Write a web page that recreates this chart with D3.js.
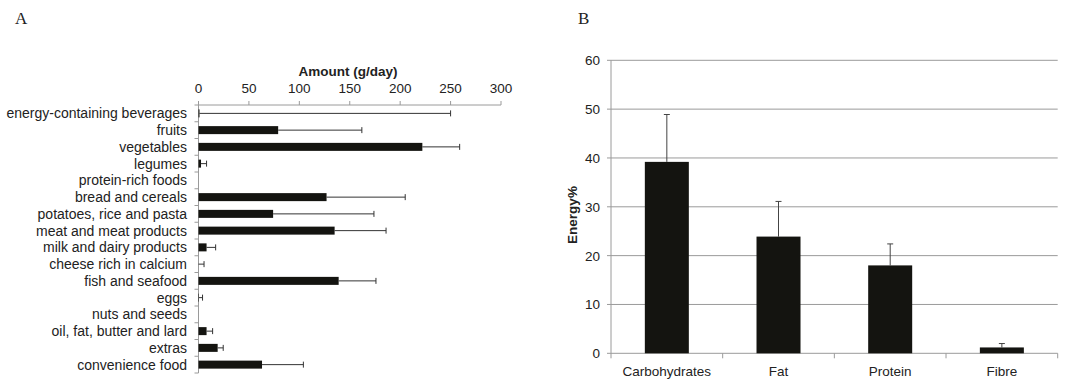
<!DOCTYPE html>
<html>
<head>
<meta charset="utf-8">
<script src="https://cdn.jsdelivr.net/npm/d3@7"></script>
<style>
body { margin: 0; background: #fff; }
svg text { font-family: "Liberation Sans", Arial, sans-serif; fill: #222; }
</style>
</head>
<body>
<script>
var width = 1088, height = 380;

// panel A data
var foods = ["energy-containing beverages", "fruits", "vegetables", "legumes", "protein-rich foods",
    "bread and cereals", "potatoes, rice and pasta", "meat and meat products", "milk and dairy products",
    "cheese rich in calcium", "fish and seafood", "eggs", "nuts and seeds", "oil, fat, butter and lard",
    "extras", "convenience food"];
var amount = [1, 79, 222, 2.5, 0, 127, 74, 135, 8, 0, 139, 0.5, 0, 8, 19, 63];
var amountErr = [249, 83, 37, 5.5, 0, 78, 100, 51, 9, 5.5, 37, 3.5, 0, 6, 5.5, 41];
var amountTicks = [0, 50, 100, 150, 200, 250, 300];

// panel B data
var nutrients = ["Carbohydrates", "Fat", "Protein", "Fibre"];
var energy = [39.2, 23.9, 18.0, 1.2];
var energyErr = [9.7, 7.2, 4.4, 0.8];
var energyTicks = [0, 10, 20, 30, 40, 50, 60];

var svg = d3.select("body").append("svg")
    .attr("width", width)
    .attr("height", height);

var axisColor = "#9a9a9a";

// ---- panel A ----
svg.append("text").attr("x", 15).attr("y", 24)
    .style("font-family", "Liberation Serif, serif")
    .attr("font-size", "17px").text("A");

var xA = d3.scaleLinear().domain([0, 300]).range([198.5, 501]);
var yA = d3.scaleBand().domain(foods).range([105, 373]);

var gA = svg.append("g");

gA.append("line").attr("x1", xA(0)).attr("x2", xA(300))
    .attr("y1", 105).attr("y2", 105).attr("stroke", axisColor);
gA.selectAll(".xtick").data(amountTicks).enter().append("line")
    .attr("x1", d => xA(d)).attr("x2", d => xA(d))
    .attr("y1", 101).attr("y2", 105).attr("stroke", axisColor);
gA.selectAll(".xlab").data(amountTicks).enter().append("text")
    .attr("x", d => xA(d)).attr("y", 93)
    .attr("text-anchor", "middle").attr("font-size", "13.5px")
    .text(d => d);
gA.append("text").attr("x", 348).attr("y", 76)
    .attr("text-anchor", "middle").attr("font-size", "13.5px")
    .attr("font-weight", "bold").text("Amount (g/day)");

gA.append("line").attr("x1", xA(0)).attr("x2", xA(0))
    .attr("y1", 105).attr("y2", 373).attr("stroke", axisColor);
var bounds = foods.map(d => yA(d)).concat([yA.range()[1]]);
gA.selectAll(".ytick").data(bounds).enter().append("line")
    .attr("x1", xA(0) - 4).attr("x2", xA(0))
    .attr("y1", d => d).attr("y2", d => d).attr("stroke", axisColor);
gA.selectAll(".ylab").data(foods).enter().append("text")
    .attr("x", 187).attr("y", d => yA(d) + yA.bandwidth() / 2 + 5)
    .attr("text-anchor", "end").attr("font-size", "14px")
    .text(d => d);

var rowsA = foods.map((f, i) => ({ name: f, v: amount[i], e: amountErr[i] }));
var bh = 8;
gA.selectAll(".err").data(rowsA.filter(d => d.e > 0)).enter().append("g")
    .each(function(d) {
        var g = d3.select(this);
        var cy = yA(d.name) + yA.bandwidth() / 2;
        g.append("line").attr("x1", xA(d.v)).attr("x2", xA(d.v + d.e))
            .attr("y1", cy).attr("y2", cy).attr("stroke", "#333");
        g.append("line").attr("x1", xA(d.v + d.e)).attr("x2", xA(d.v + d.e))
            .attr("y1", cy - 3).attr("y2", cy + 3).attr("stroke", "#333");
    });
gA.selectAll(".bar").data(rowsA.filter(d => d.v > 0)).enter().append("rect")
    .attr("x", xA(0)).attr("y", d => yA(d.name) + yA.bandwidth() / 2 - bh / 2)
    .attr("width", d => xA(d.v) - xA(0)).attr("height", bh)
    .attr("fill", "#141410");

// ---- panel B ----
svg.append("text").attr("x", 578).attr("y", 24)
    .style("font-family", "Liberation Serif, serif")
    .attr("font-size", "17px").text("B");

var xB = d3.scaleBand().domain(nutrients).range([611, 1057.7]).paddingInner(0).paddingOuter(0);
var yB = d3.scaleLinear().domain([0, 60]).range([353.3, 60.3]);
var gB = svg.append("g");

gB.selectAll(".grid").data(energyTicks).enter().append("line")
    .attr("x1", 607).attr("x2", 1057.7)
    .attr("y1", d => yB(d)).attr("y2", d => yB(d))
    .attr("stroke", axisColor);
gB.append("line").attr("x1", 611).attr("x2", 611)
    .attr("y1", yB(60)).attr("y2", yB(0)).attr("stroke", axisColor);
gB.selectAll(".ylab").data(energyTicks).enter().append("text")
    .attr("x", 600).attr("y", d => yB(d) + 5)
    .attr("text-anchor", "end").attr("font-size", "13.5px")
    .text(d => d);
var xb = nutrients.map(d => xB(d)).concat([xB.range()[1]]);
gB.selectAll(".xtick").data(xb).enter().append("line")
    .attr("x1", d => d).attr("x2", d => d)
    .attr("y1", yB(0)).attr("y2", yB(0) + 5).attr("stroke", axisColor);
gB.selectAll(".xlab").data(nutrients).enter().append("text")
    .attr("x", d => xB(d) + xB.bandwidth() / 2).attr("y", 376)
    .attr("text-anchor", "middle").attr("font-size", "13.5px")
    .text(d => d);
gB.append("text")
    .attr("transform", "translate(577,215) rotate(-90)")
    .attr("text-anchor", "middle").attr("font-size", "13.5px")
    .attr("font-weight", "bold").text("Energy%");

var rowsB = nutrients.map((n, i) => ({ name: n, v: energy[i], e: energyErr[i] }));
var bw = 44;
gB.selectAll(".err").data(rowsB).enter().append("g")
    .each(function(d) {
        var g = d3.select(this);
        var cx = xB(d.name) + xB.bandwidth() / 2;
        g.append("line").attr("x1", cx).attr("x2", cx)
            .attr("y1", yB(d.v)).attr("y2", yB(d.v + d.e)).attr("stroke", "#444");
        g.append("line").attr("x1", cx - 3).attr("x2", cx + 3)
            .attr("y1", yB(d.v + d.e)).attr("y2", yB(d.v + d.e)).attr("stroke", "#444");
    });
gB.selectAll(".bar").data(rowsB).enter().append("rect")
    .attr("x", d => xB(d.name) + xB.bandwidth() / 2 - bw / 2)
    .attr("y", d => yB(d.v))
    .attr("width", bw).attr("height", d => yB(0) - yB(d.v))
    .attr("fill", "#141410");
</script>
</body>
</html>
